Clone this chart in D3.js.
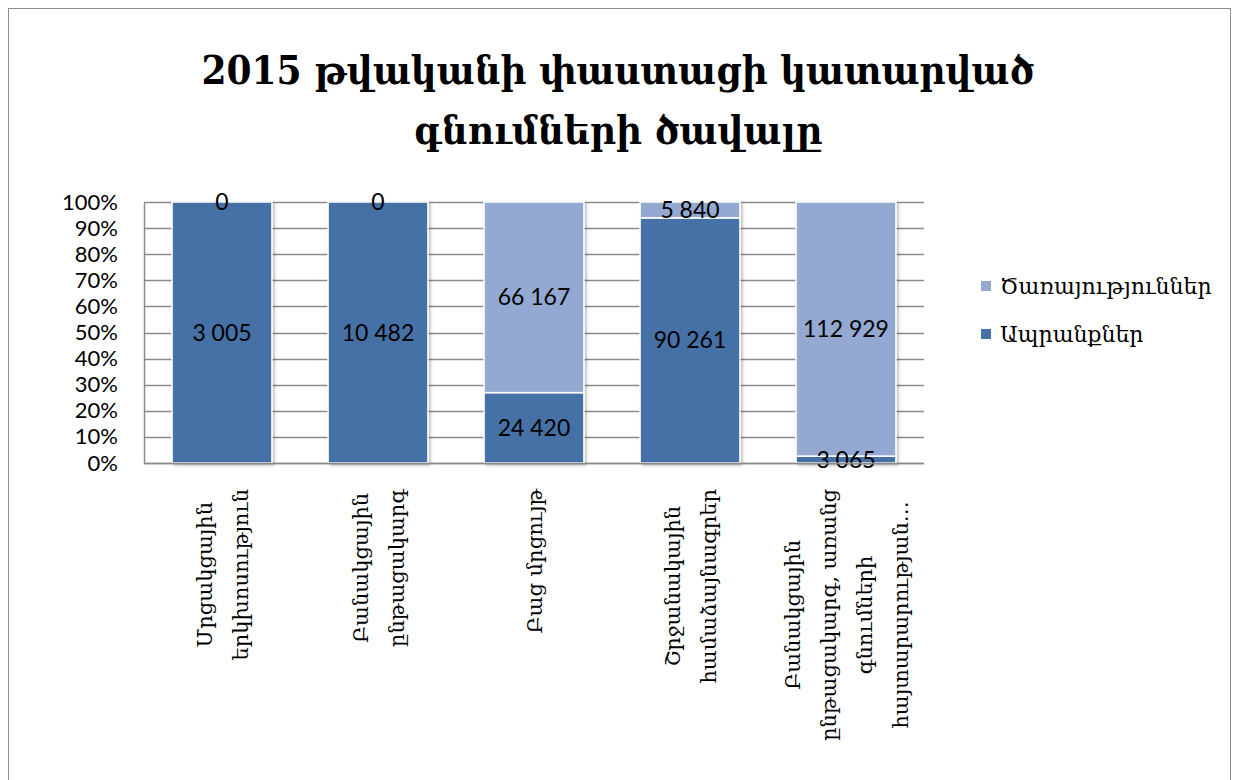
<!DOCTYPE html>
<html>
<head>
<meta charset="utf-8">
<script src="https://cdn.jsdelivr.net/npm/d3@7"></script>
<style>
  body { margin: 0; background: #fff; }
</style>
</head>
<body>
<script>
const width = 1237;
const height = 780;

const titleLines = ["2015 թվականի փաստացի կատարված", "գնումների ծավալը"];
const categories = ["c1", "c2", "c3", "c4", "c5"];
const categoryLines = [
  ["Մրցակցային", "երկխոսություն"],
  ["Բանակցային", "ընթացակարգ"],
  ["Բաց մրցույթ"],
  ["Շրջանակային", "համաձայնագրեր"],
  ["Բանակցային", "ընթացակարգ, առանց", "գնումների", "հայտարարության…"]
];
const goods = [3005, 10482, 24420, 90261, 3065];
const services = [0, 0, 66167, 5840, 112929];
const seriesNames = { goods: "Ապրանքներ", services: "Ծառայություններ" };
const colors = { goods: "#4571a7", services: "#93a9d1" };
const yTicks = [0, 0.1, 0.2, 0.3, 0.4, 0.5, 0.6, 0.7, 0.8, 0.9, 1];

const armFont = "'DejaVu Serif', 'Noto Serif', serif";
const titleFont = "'DejaVu Serif Condensed', 'DejaVu Serif', serif";
const numFont = "Lato, 'Open Sans', sans-serif";

const svg = d3.select("body").append("svg")
  .attr("width", width)
  .attr("height", height);

// soft shadow under the bars, like the office chart
const shadow = svg.append("defs").append("filter")
  .attr("id", "shadow")
  .attr("x", "-10%").attr("y", "-10%")
  .attr("width", "130%").attr("height", "130%");
shadow.append("feDropShadow")
  .attr("dx", 2).attr("dy", 2)
  .attr("stdDeviation", 1.5)
  .attr("flood-color", "#000")
  .attr("flood-opacity", 0.25);

// outer frame
svg.append("rect")
  .attr("x", 8.5).attr("y", 8.5)
  .attr("width", 1222).attr("height", 820)
  .style("fill", "none")
  .style("stroke", "#8c8c8c")
  .style("stroke-width", 1);

// title
svg.append("g").selectAll("text")
  .data(titleLines)
  .enter()
  .append("text")
  .attr("x", 618)
  .attr("y", (d, i) => 84 + i * 60)
  .attr("text-anchor", "middle")
  .style("font-family", titleFont)
  .style("font-weight", "bold")
  .style("font-size", "40px")
  .text(d => d);

const rows = categories.map((c, i) => ({ cat: c, goods: goods[i], services: services[i] }));

const x = d3.scaleBand()
  .domain(categories)
  .range([144, 924])
  .paddingInner(0.36)
  .paddingOuter(0.18);

const y = d3.scaleLinear()
  .domain([0, 1])
  .range([463, 202]);

// gridlines
svg.append("g")
  .selectAll("line")
  .data(yTicks)
  .enter()
  .append("line")
  .attr("x1", 144).attr("x2", 924)
  .attr("y1", d => Math.round(y(d)) + 0.5)
  .attr("y2", d => Math.round(y(d)) + 0.5)
  .style("stroke", "#8a8a8a")
  .style("stroke-width", 1.5);

// y axis
const yAxis = svg.append("g")
  .attr("transform", "translate(144,0)")
  .call(d3.axisLeft(y).tickValues(yTicks).tickFormat(d3.format(".0%")).tickSize(0).tickPadding(26));
yAxis.select(".domain").style("stroke", "#8a8a8a").style("stroke-width", 1.5);
yAxis.selectAll("text")
  .style("font-family", numFont)
  .style("font-size", "22px")
  .style("fill", "#000");

const stack = d3.stack()
  .keys(["goods", "services"])
  .offset(d3.stackOffsetExpand);
const layers = stack(rows);

const fmt = d3.formatLocale({ decimal: ",", thousands: " ", grouping: [3], currency: ["", ""] }).format(",d");

const layerG = svg.append("g")
  .attr("filter", "url(#shadow)")
  .selectAll("g")
  .data(layers)
  .enter()
  .append("g")
  .style("fill", d => colors[d.key]);

layerG.selectAll("rect")
  .data(d => d)
  .enter()
  .append("rect")
  .attr("x", d => x(d.data.cat))
  .attr("width", x.bandwidth())
  .attr("y", d => y(d[1]))
  .attr("height", d => y(d[0]) - y(d[1]))
  .style("stroke", "#fff")
  .style("stroke-width", 1.5);

// data labels
layers.forEach(layer => {
  svg.append("g")
    .selectAll("text")
    .data(layer)
    .enter()
    .append("text")
    .attr("x", d => x(d.data.cat) + x.bandwidth() / 2)
    .attr("y", d => (y(d[0]) + y(d[1])) / 2)
    .attr("dy", "0.35em")
    .attr("text-anchor", "middle")
    .style("font-family", numFont)
    .style("font-size", "23px")
    .style("fill", "#000")
    .text(d => fmt(d.data[layer.key]));
});

// x axis line
svg.append("line")
  .attr("x1", 144).attr("x2", 924)
  .attr("y1", 463.5).attr("y2", 463.5)
  .style("stroke", "#8a8a8a")
  .style("stroke-width", 1.5);

// category labels, rotated, lines centred within the block
const labelTop = 489;
const lineStep = 36;
categoryLines.forEach((lines, i) => {
  const cx = x(categories[i]) + x.bandwidth() / 2;
  const g = svg.append("g");
  const texts = g.selectAll("text")
    .data(lines)
    .enter()
    .append("text")
    .attr("text-anchor", "middle")
    .style("font-family", armFont)
    .style("font-size", "21px")
    .text(d => d);
  let maxLen = 0;
  texts.each(function () { maxLen = Math.max(maxLen, this.getComputedTextLength()); });
  const cy = labelTop + maxLen / 2;
  texts.attr("transform", (d, j) => {
    const px = cx + (j - (lines.length - 1) / 2) * lineStep + 8;
    return `translate(${px},${cy}) rotate(-90)`;
  });
});

// legend
const legendKeys = ["services", "goods"];
const legend = svg.append("g")
  .selectAll("g")
  .data(legendKeys)
  .enter()
  .append("g")
  .attr("transform", (d, i) => `translate(981,${281 + i * 48})`);
legend.append("rect")
  .attr("width", 10).attr("height", 10)
  .style("fill", d => colors[d]);
legend.append("text")
  .attr("x", 19)
  .attr("y", 5)
  .attr("dy", "0.35em")
  .style("font-family", armFont)
  .style("font-size", "22px")
  .text(d => seriesNames[d]);
</script>
</body>
</html>
